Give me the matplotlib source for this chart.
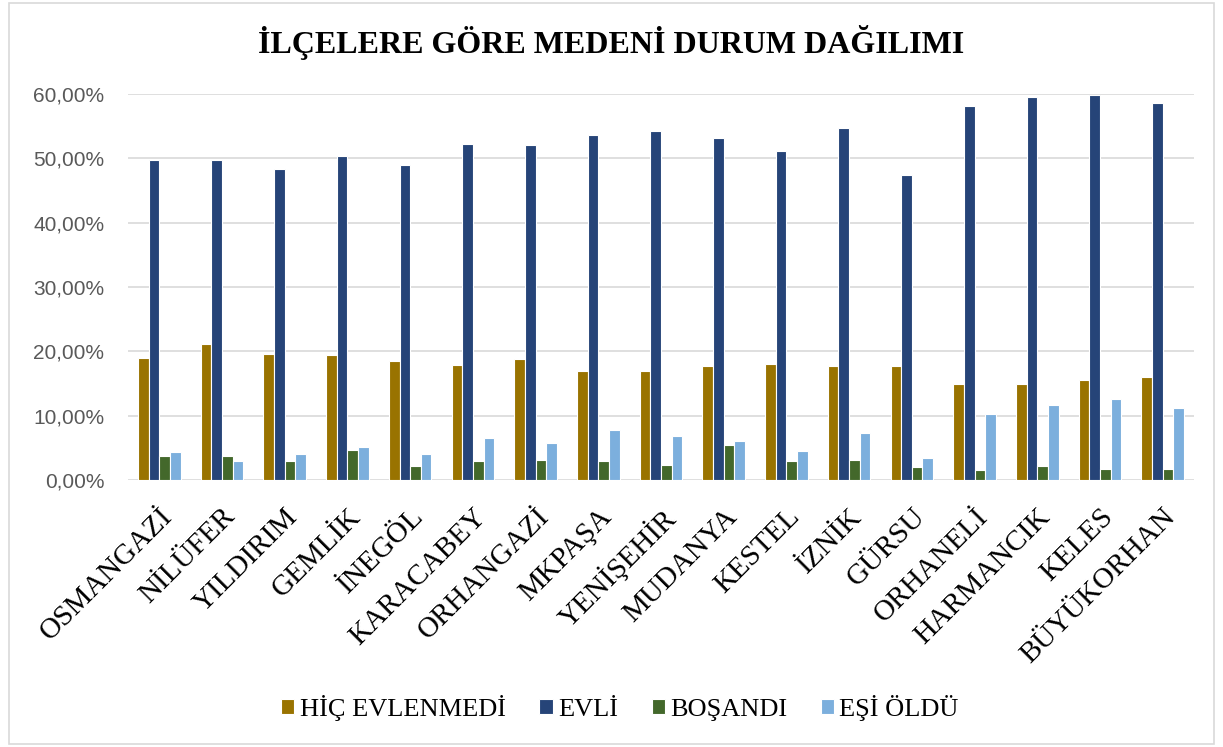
import matplotlib
matplotlib.use("Agg")
import matplotlib.pyplot as plt
import numpy as np
from matplotlib.patches import Rectangle
from matplotlib.ticker import FuncFormatter

categories = ["OSMANGAZİ", "NİLÜFER", "YILDIRIM", "GEMLİK", "İNEGÖL", "KARACABEY",
              "ORHANGAZİ", "MKPAŞA", "YENİŞEHİR", "MUDANYA", "KESTEL", "İZNİK",
              "GÜRSU", "ORHANELİ", "HARMANCIK", "KELES", "BÜYÜKORHAN"]
hic_evlenmedi = [19.0, 21.1, 19.6, 19.5, 18.5, 17.9, 18.8, 16.9, 17.0, 17.7, 18.0,
                 17.7, 17.7, 14.9, 14.9, 15.6, 16.0]
evli = [49.8, 49.7, 48.3, 50.3, 49.0, 52.3, 52.0, 53.6, 54.2, 53.1, 51.1,
        54.7, 47.4, 58.1, 59.6, 59.9, 58.6]
bosandi = [3.7, 3.8, 3.0, 4.7, 2.1, 3.0, 3.1, 2.9, 2.3, 5.4, 2.9,
           3.1, 2.0, 1.6, 2.1, 1.7, 1.7]
esi_oldu = [4.3, 3.0, 4.1, 5.2, 4.0, 6.5, 5.8, 7.8, 6.9, 6.1, 4.5,
            7.3, 3.4, 10.2, 11.7, 12.6, 11.2]
series_names = ["HİÇ EVLENMEDİ", "EVLİ", "BOŞANDI", "EŞİ ÖLDÜ"]
colors = ["#997300", "#264478", "#43682B", "#7CAFDD"]
title = "İLÇELERE GÖRE MEDENİ DURUM DAĞILIMI"

W, H = 1223, 747
fig = plt.figure(figsize=(W / 100, H / 100), dpi=100)
ax = fig.add_axes([128 / W, 1 - 480 / H, (1194 - 128) / W, (480 - 94) / H])

x = np.arange(len(categories))
bw = 0.17
data = [hic_evlenmedi, evli, bosandi, esi_oldu]
handles = []
for i, (vals, c, name) in enumerate(zip(data, colors, series_names)):
    b = ax.bar(x + (i - 1.5) * bw, np.array(vals) / 100, bw, color=c,
               edgecolor="white", linewidth=0.8, label=name, zorder=3)
    handles.append(b)

ax.set_ylim(0, 0.6)
ax.set_xlim(-0.5, len(categories) - 0.5)
ax.set_yticks(np.arange(0, 0.61, 0.1))
ax.yaxis.set_major_formatter(FuncFormatter(lambda v, p: f"{v*100:.2f}%".replace(".", ",")))
ax.grid(axis="y", color="#D9D9D9", linewidth=1.2, zorder=0)
for s in ax.spines.values():
    s.set_visible(False)
ax.tick_params(axis="both", length=0)
ax.tick_params(axis="y", labelsize=15, labelcolor="#595959", pad=17)
for lbl in ax.get_yticklabels():
    lbl.set_fontfamily("Liberation Sans")

ax.set_xticks(x)
ax.set_xticklabels(categories, rotation=45, ha="right", va="top",
                   rotation_mode="anchor", fontsize=21, fontfamily="Liberation Serif",
                   color="black")
ax.tick_params(axis="x", pad=17)

fig.text(0.5, 1 - 53.3 / H, title, ha="center", va="baseline", fontsize=23,
         fontweight="bold", fontfamily="Liberation Serif", color="black")

leg = fig.legend(handles=handles, labels=series_names, loc="center",
                 bbox_to_anchor=(620 / W, 1 - 708 / H), ncol=4, frameon=False,
                 prop={"family": "Liberation Serif", "size": 19},
                 handlelength=0.5, handleheight=0.5, handletextpad=0.2,
                 columnspacing=1.28, borderpad=0)

fig.patches.append(Rectangle((9 / W, 3 / H), 1 - 18 / W, 1 - 6 / H,
                             transform=fig.transFigure, fill=False,
                             edgecolor="#D9D9D9", linewidth=1.2))

fig.savefig("out.png", dpi=100, facecolor="white")
